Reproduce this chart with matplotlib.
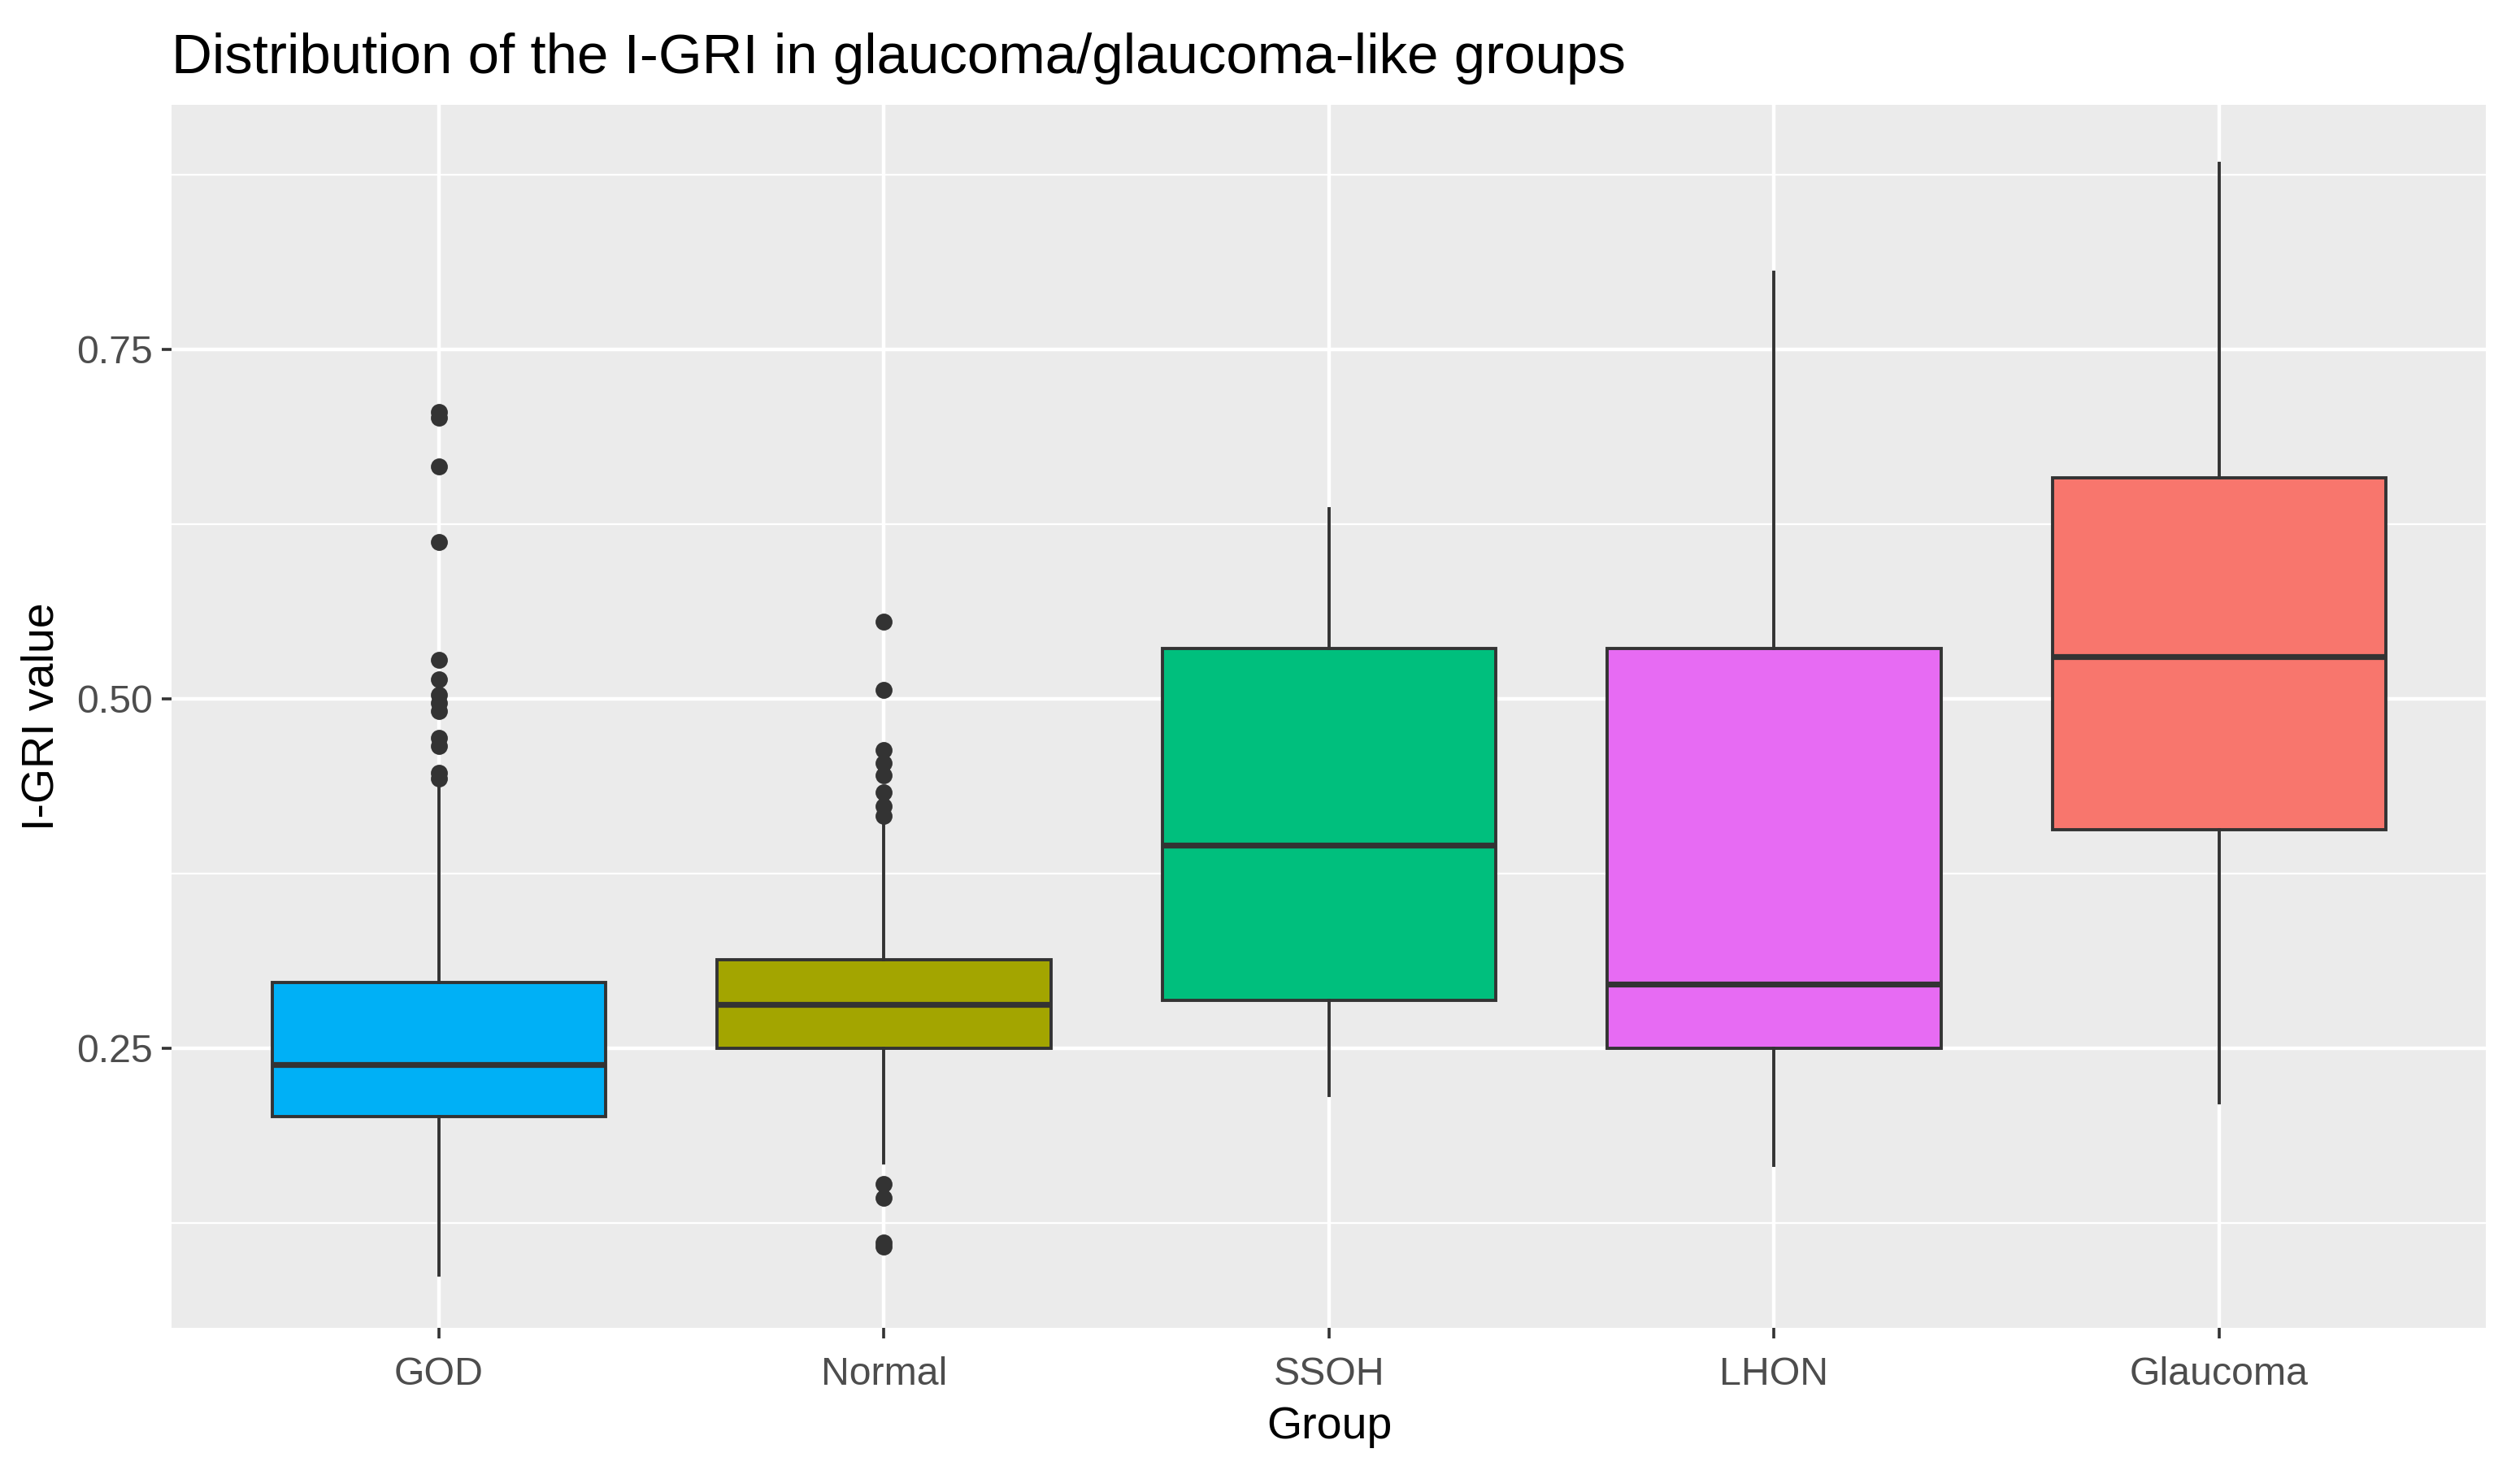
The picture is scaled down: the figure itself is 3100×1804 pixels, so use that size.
import numpy as np
import matplotlib
matplotlib.use("Agg")
import matplotlib.pyplot as plt
from matplotlib.ticker import MultipleLocator

plt.rcParams['font.family'] = ['Liberation Sans', 'DejaVu Sans']

# ---- data ----
groups = ["GOD", "Normal", "SSOH", "LHON", "Glaucoma"]
colors = ["#00B0F6", "#A3A500", "#00BF7D", "#E76BF3", "#F8766D"]

q1 = [0.201, 0.250, 0.284, 0.250, 0.406]
med = [0.238, 0.281, 0.395, 0.296, 0.530]
q3 = [0.297, 0.313, 0.536, 0.536, 0.658]
whis_lo = [0.088, 0.168, 0.216, 0.166, 0.211]
whis_hi = [0.440, 0.412, 0.636, 0.805, 0.883]

god_out = [0.705, 0.701, 0.666, 0.612, 0.528, 0.514, 0.503, 0.497, 0.491,
           0.472, 0.466, 0.447, 0.443]
normal_out = [0.555, 0.506, 0.463, 0.454, 0.445, 0.433, 0.423, 0.416,
              0.153, 0.143, 0.111, 0.108]
outliers = [god_out, normal_out, [], [], []]

# ---- build stats for bxp ----
stats = []
for i in range(len(groups)):
    stats.append(dict(label=groups[i], q1=q1[i], med=med[i], q3=q3[i],
                      whislo=whis_lo[i], whishi=whis_hi[i],
                      fliers=np.array(outliers[i])))

fig = plt.figure(figsize=(15.5, 9.02), dpi=200)
ax = fig.add_axes([0.0682, 0.0943, 0.9184, 0.8344])
ax.set_facecolor("#EBEBEB")

pos = np.arange(1, len(groups) + 1)
bp = ax.bxp(stats, positions=pos, widths=0.75, patch_artist=True, showcaps=False,
            boxprops=dict(edgecolor="#333333", linewidth=1.4),
            medianprops=dict(color="#333333", linewidth=2.6),
            whiskerprops=dict(color="#333333", linewidth=1.4),
            flierprops=dict(marker="o", markerfacecolor="#333333",
                            markeredgecolor="#333333", markersize=6.5, linestyle="none"))
for patch, c in zip(bp["boxes"], colors):
    patch.set_facecolor(c)

ax.set_xlim(0.4, 5.6)
ax.set_ylim(0.05, 0.925)
ax.set_xticks(pos)
ax.set_xticklabels(groups)
ax.yaxis.set_major_locator(MultipleLocator(0.25))
ax.yaxis.set_minor_locator(MultipleLocator(0.125))
ax.set_yticks([0.25, 0.50, 0.75])
ax.set_yticklabels(["0.25", "0.50", "0.75"])

ax.set_axisbelow(True)
ax.grid(which="major", color="white", linewidth=1.6)
ax.grid(which="minor", axis="y", color="white", linewidth=0.8)
for s in ax.spines.values():
    s.set_visible(False)

ax.tick_params(which="major", length=4.5, width=1.3, color="#333333",
               labelcolor="#4D4D4D", labelsize=17.4)
ax.tick_params(axis="x", pad=8)
ax.tick_params(axis="y", pad=4)
ax.tick_params(which="minor", length=0)

ax.set_xlabel("Group", fontsize=20, labelpad=6)
ax.set_ylabel("I-GRI value", fontsize=20, labelpad=6)
ax.set_title("Distribution of the I-GRI in glaucoma/glaucoma-like groups",
             loc="left", fontsize=24.9, pad=14)

fig.savefig("out.png", dpi=200)
